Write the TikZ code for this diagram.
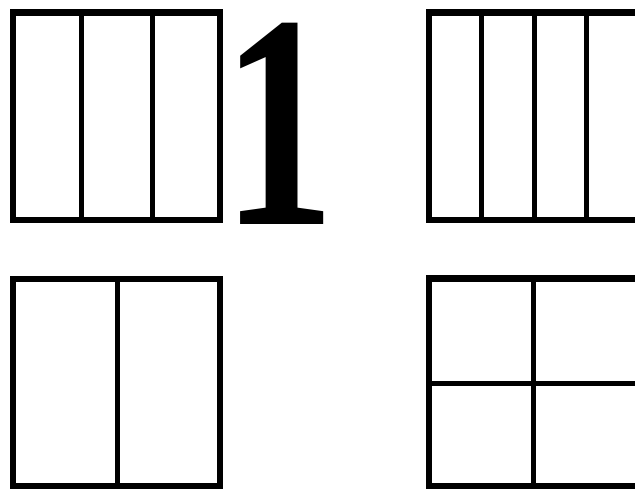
\documentclass[tikz,border=0pt]{standalone}
\usepackage{fontspec}
\newfontfamily\digitfont{Liberation Serif}
\begin{document}
\begin{tikzpicture}[x=1pt,y=-1pt,
  outer/.style={line width=6.5pt,line join=miter},
  inner/.style={line width=5pt}]
\useasboundingbox (0,0) rectangle (635,488);
% digit
\node[inner sep=0pt,anchor=base,font=\digitfont\bfseries\fontsize{305}{305}\selectfont,xscale=0.74] (one) at (279,224) {1};
\begin{scope}
\clip (0,0) rectangle (635,488);
% top-left: three columns
\draw[outer] (13,12.5) rectangle (220,220);
\draw[inner] (81,12.5) -- (81,220) (152,12.5) -- (152,220);
% top-right: four+ columns (cut at right)
\draw[outer] (429,12.5) rectangle (640,220);
\draw[inner] (481,12.5) -- (481,220) (534,12.5) -- (534,220) (586,12.5) -- (586,220);
% bottom-left: two columns
\draw[outer] (13,279) rectangle (220,486.5);
\draw[inner] (117,279) -- (117,486.5);
% bottom-right: 2x2 grid (cut at right)
\draw[outer] (429,278.5) rectangle (640,486);
\draw[inner] (533.5,278.5) -- (533.5,486) (429,383.5) -- (640,383.5);
\end{scope}
\end{tikzpicture}
\end{document}
